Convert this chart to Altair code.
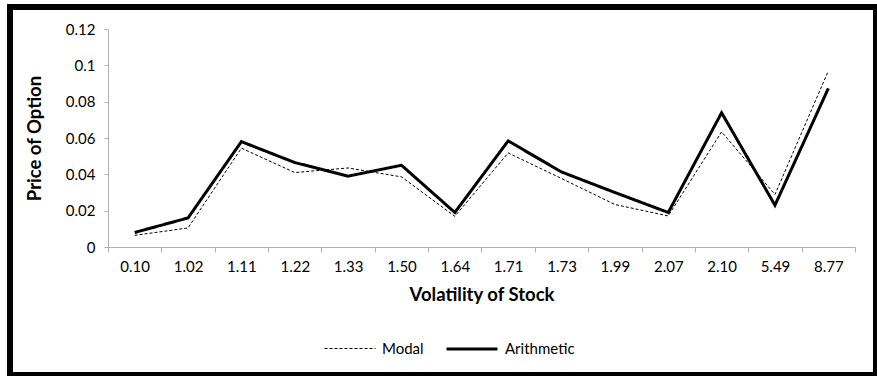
import altair as alt
import pandas as pd

categories = ["0.10", "1.02", "1.11", "1.22", "1.33", "1.50", "1.64",
              "1.71", "1.73", "1.99", "2.07", "2.10", "5.49", "8.77"]
modal = [0.0064, 0.0105, 0.0544, 0.041, 0.0435, 0.0386, 0.0169,
         0.0518, 0.0377, 0.0234, 0.0171, 0.0634, 0.0289, 0.0969]
arithmetic = [0.008, 0.016, 0.058, 0.0465, 0.039, 0.045, 0.019,
              0.0584, 0.0413, 0.030, 0.019, 0.0739, 0.023, 0.0873]
series_names = ["Modal", "Arithmetic"]
y_ticks = [0, 0.02, 0.04, 0.06, 0.08, 0.1, 0.12]

rows = []
for name, vals in zip(series_names, [modal, arithmetic]):
    for i, (c, v) in enumerate(zip(categories, vals)):
        rows.append({"Volatility": c, "Price": v, "Series": name, "order": i})
df = pd.DataFrame(rows)

FONT = "Lato"

legend_opts = dict(title=None, orient="none", direction="horizontal",
                   legendX=216, legendY=293, symbolType="stroke",
                   symbolSize=2601, symbolStrokeColor="black",
                   labelFontSize=15, labelOffset=6, columnPadding=16)

lines = alt.Chart(df).mark_line(color="black", strokeJoin="miter").encode(
    x=alt.X("Volatility:N", sort=categories, bandPosition=0.5,
            scale=alt.Scale(type="band", paddingInner=0, paddingOuter=0),
            axis=alt.Axis(title="Volatility of Stock", labelAngle=0,
                          tickBand="extent", tickSize=5, labelPadding=7,
                          titlePadding=11, domainColor="#b0b0b0",
                          tickColor="#b0b0b0", labelFontSize=15,
                          titleFontSize=18.5, titleFontWeight="bold")),
    y=alt.Y("Price:Q", scale=alt.Scale(domain=[0, 0.12], nice=False),
            axis=alt.Axis(title="Price of Option", values=y_ticks,
                          format=".2~f", grid=False, tickSize=4,
                          labelPadding=9, titlePadding=21,
                          domainColor="#b0b0b0", tickColor="#b0b0b0",
                          labelFontSize=15, titleFontSize=18.5,
                          titleFontWeight="bold")),
    strokeDash=alt.StrokeDash("Series:N",
                              scale=alt.Scale(domain=series_names,
                                              range=[[3, 2], [1, 0]]),
                              legend=alt.Legend(**legend_opts)),
    strokeWidth=alt.StrokeWidth("Series:N",
                                scale=alt.Scale(domain=series_names,
                                                range=[1, 3]),
                                legend=alt.Legend(**legend_opts)),
    order="order:Q",
)

border = alt.Chart(pd.DataFrame({"a": [0]})).mark_rect(
    fill=None, stroke="black", strokeWidth=6
).encode(x=alt.value(-98), x2=alt.value(768), y=alt.value(-22), y2=alt.value(346))

chart = alt.layer(lines, border).properties(
    width=747, height=218,
    autosize=alt.AutoSizeParams(type="none"),
    padding={"left": 108, "top": 29, "right": 22, "bottom": 129},
).configure(font=FONT).configure_view(stroke=None).configure_axis(
    labelColor="black", titleColor="black", labelFont=FONT, titleFont=FONT
).configure_legend(labelColor="black", labelFont=FONT)

chart.save("out.html", embed_options={"renderer": "svg", "actions": False})
